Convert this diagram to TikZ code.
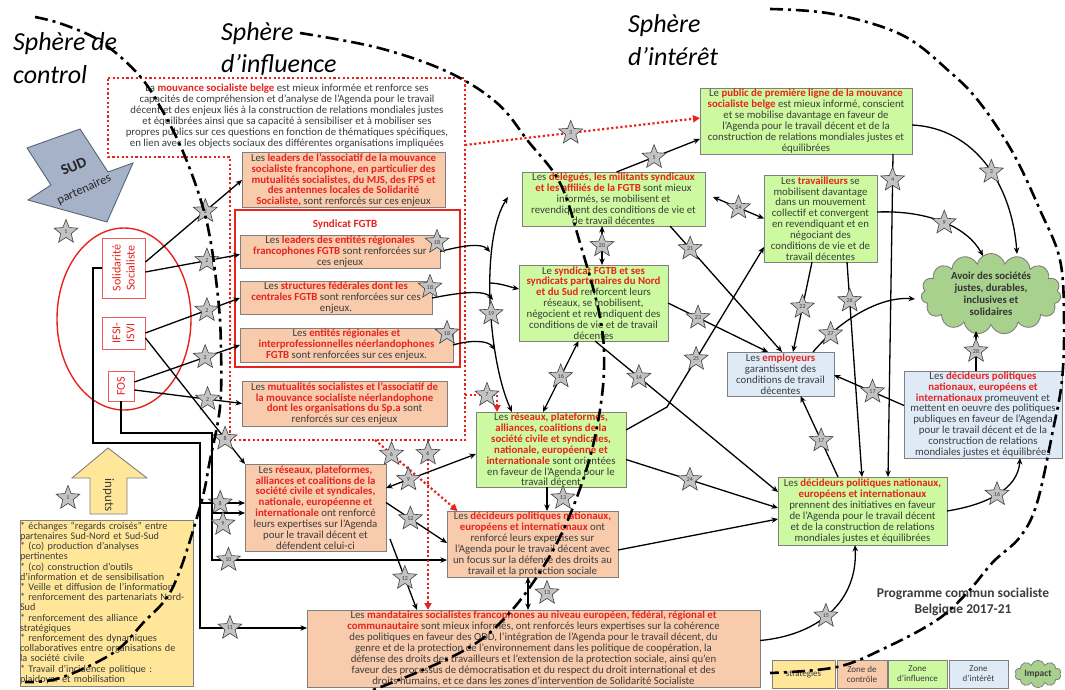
\documentclass[tikz,border=0pt]{standalone}
\usepackage{fontspec}
\setmainfont{Carlito}
\usetikzlibrary{arrows.meta,shapes.geometric,shapes.symbols,calc}
\definecolor{orf}{RGB}{248,203,173}
\definecolor{grf}{RGB}{205,250,160}
\definecolor{blf}{RGB}{222,235,247}
\definecolor{yef}{RGB}{255,230,153}
\definecolor{clf}{RGB}{169,209,142}
\definecolor{redt}{RGB}{232,35,30}
\definecolor{txt}{RGB}{60,60,60}
\definecolor{bord}{RGB}{127,127,127}
\definecolor{sudf}{RGB}{166,178,200}
\definecolor{sudb}{RGB}{90,100,120}
\definecolor{stf}{RGB}{195,195,195}
\newcommand{\rd}[1]{\textcolor{redt}{\bfseries #1}}
\begin{document}
\begin{tikzpicture}[x=1pt,y=1pt,
  bx/.style={draw=bord, line width=0.9pt, inner sep=0.5pt, outer sep=0pt, align=center, text=txt, font=\fontsize{10.8}{10.9}\selectfont},
  ob/.style={bx, fill=orf}, gb/.style={bx, fill=grf}, lb/.style={bx, fill=blf},
  stn/.style={star, star points=5, star point ratio=2.3, minimum size=25pt, inner sep=0pt, solid, fill=stf, draw=gray!50!black, line width=0.6pt, font=\fontsize{6}{6}\selectfont, text=txt},
  ln/.style={line width=1.3pt, black},
  ar/.style={ln, -{Stealth[length=6.5pt,width=5.5pt]}},
  dar/.style={ln, {Stealth[length=6.5pt,width=5.5pt]}-{Stealth[length=6.5pt,width=5.5pt]}},
  rdot/.style={draw=redt, line width=2.2pt, dash pattern=on 2.2pt off 2.4pt},
  rar/.style={rdot, -{Triangle[length=7pt,width=7pt]}},
  sph/.style={line width=2.6pt, dash pattern=on 13pt off 5pt on 3pt off 5pt},
  head/.style={font=\fontsize{26}{30}\selectfont\itshape, text=black, inner sep=0pt, anchor=base west},
  smallbox/.style={draw=redt!75, line width=0.9pt, fill=white, inner sep=0pt},
  smalltxt/.style={text=redt, align=center, font=\fontsize{12}{14}\selectfont, inner sep=0pt},
  lgd/.style={bx, font=\fontsize{9}{10}\selectfont, minimum height=28pt},
]
\useasboundingbox[fill=white] (0,0) rectangle (1065,-690);

% headings
\node[head] (h1a) at (13,-51) {Sphère de};
\node[head] (h1b) at (13,-84) {control};
\node[head] (h2a) at (221,-41) {Sphère};
\node[head] (h2b) at (221,-73) {d’influence};
\node[head] (h3a) at (628,-33) {Sphère};
\node[head] (h3b) at (628,-66) {d’intérêt};

% SUD arrow
\draw[fill=sudf, draw=sudb, line width=0.9pt] (80,-129) -- (27,-148) -- (51,-185) -- (28,-200) -- (107,-222) -- (133,-163) -- (108,-172) -- cycle;
\node[rotate=24, align=center, inner sep=0pt, text=black!85, font=\fontsize{12.5}{15}\selectfont] (sud) at (79,-178) {{\bfseries\fontsize{15}{15}\selectfont SUD}\\[9pt]partenaires};

% ellipse with organisations
\node[ellipse, draw=redt, line width=1.4pt, minimum width=134pt, minimum height=182pt] (EL) at (124,-319) {};
\node[smallbox, minimum width=43pt, minimum height=60pt] (SS) at (123.5,-268) {};
\node[smalltxt, rotate=90] (SSt) at (SS) {Solidarité\\Socialiste};
\node[smallbox, minimum width=43pt, minimum height=32pt] (IF) at (123.5,-333) {};
\node[smalltxt, rotate=90] (IFt) at (IF) {IFSI-\\ISVI};
\node[smallbox, minimum width=26pt, minimum height=30pt] (FO) at (121,-386) {};
\node[smalltxt, rotate=90] (FOt) at (FO) {FOS};

% inputs
\draw[fill=yef, draw=bord, line width=0.9pt] (108,-448) -- (147,-478) -- (127,-478) -- (127,-514) -- (90,-514) -- (90,-478) -- (72,-478) -- cycle;
\node[rotate=-90, font=\fontsize{13}{13}\selectfont, text=txt] (inp) at (108.5,-495) {inputs};
\node[bx, fill=yef, align=left, text width=173pt, inner sep=0pt, minimum height=166pt, font=\fontsize{10.2}{10.2}\selectfont] (IN) at (106.5,-603) {* échanges “regards croisés” entre\\ partenaires Sud-Nord et Sud-Sud\\ {*} (co) production d’analyses\\ pertinentes\\ {*} (co) construction d’outils\\ d’information et de sensibilisation\\ {*} Veille et diffusion de l’information\\ {*} renforcement des partenariats Nord-\\ Sud\\ {*} renforcement des alliance\\ stratégiques\\ {*} renforcement des dynamiques\\ collaboratives entre organisations de\\ la société civile\\ {*} Travail d’incidence politique :\\ plaidoyer et mobilisation};

% dotted red region
\draw[rdot] (108,-78) -- (465,-78) -- (465,-440) -- (230,-440) -- (230,-157) -- (108,-157) -- cycle;
\node[bx, draw=none, fill=none] (T0) at (287,-116) {La \rd{mouvance socialiste belge} est mieux informée et renforce ses\\ capacités de compréhension et d’analyse de l’Agenda pour le travail\\ décent et des enjeux liés à la construction de relations mondiales justes\\ et équilibrées ainsi que sa capacité à sensibiliser et à mobiliser ses\\ propres publics sur ces questions en fonction de thématiques spécifiques,\\ en lien avec les objects sociaux des différentes organisations impliquées};

% orange boxes
\node[ob, minimum width=203pt, minimum height=54pt] (B2) at (343.5,-180) {Les \rd{leaders de l’associatif de la mouvance}\\ \rd{socialiste francophone, en particulier des}\\ \rd{mutualités socialistes, du MJS, des FPS et}\\ \rd{des antennes locales de Solidarité}\\ \rd{Socialiste,} sont renforcés sur ces enjeux};
\node[draw=redt, line width=1.2pt, minimum width=225pt, minimum height=157pt, inner sep=0pt] (FG) at (347.5,-288.5) {};
\node[font=\bfseries\fontsize{11}{12}\selectfont, text=redt] (FGt) at (345,-225) {Syndicat FGTB};
\node[ob, minimum width=200pt, minimum height=33pt] (B3) at (340,-251.5) {Les \rd{leaders des entités régionales}\\ \rd{francophones FGTB} sont renforcées sur\\ ces enjeux};
\node[ob, minimum width=192pt, minimum height=30pt] (B4) at (336,-298) {Les \rd{structures fédérales dont les}\\ \rd{centrales FGTB} sont renforcées sur ces\\ enjeux.};
\node[ob, minimum width=213pt, minimum height=34pt] (B5) at (346.5,-345) {Les \rd{entités régionales et}\\ \rd{interprofessionnelles néerlandophones}\\ \rd{FGTB} sont renforcées sur ces enjeux.};
\node[ob, minimum width=205pt, minimum height=45pt] (B6) at (344.5,-403.5) {Les \rd{mutualités socialistes et l’associatif de}\\ \rd{la mouvance socialiste néerlandophone}\\ \rd{dont les organisations du Sp.a} sont\\ renforcés sur ces enjeux};
\node[ob, minimum width=141pt, minimum height=87pt] (B7) at (315.5,-507.5) {Les \rd{réseaux, plateformes,}\\ \rd{alliances et coalitions de la}\\ \rd{société civile et syndicales,}\\ \rd{nationale, européenne et}\\ \rd{internationale} ont renforcé\\ leurs expertises sur l’Agenda\\ pour le travail décent et\\ défendent celui-ci};
\node[ob, minimum width=171pt, minimum height=66pt] (B8) at (532.5,-544) {Les \rd{décideurs politiques nationaux,}\\ \rd{européens et internationaux} ont\\ renforcé leurs expertises sur\\ l’Agenda pour le travail décent avec\\ un focus sur la défense des droits au\\ travail et la protection sociale};
\node[ob, minimum width=453pt, minimum height=77pt] (B9) at (533.5,-648.5) {Les \rd{mandataires socialistes francophones au niveau européen, fédéral, régional et}\\ \rd{communautaire} sont mieux informés, ont renforcés leurs expertises sur la cohérence\\ des politiques en faveur des ODD, l’intégration de l’Agenda pour le travail décent, du\\ genre et de la protection de l’environnement dans les politique de coopération, la\\ défense des droits des travailleurs et l’extension de la protection sociale, ainsi qu’en\\ faveur des processus de démocratisation et du respect du droit international et des\\ droits humains, et ce dans les zones d’intervention de Solidarité Socialiste};

% green boxes
\node[gb, minimum width=212pt, minimum height=66pt] (G1) at (806,-121) {Le \rd{public de première ligne de la mouvance}\\ \rd{socialiste belge} est mieux informé, conscient\\ et se mobilise davantage en faveur de\\ l’Agenda pour le travail décent et de la\\ construction de relations mondiales justes et\\ équilibrées};
\node[gb, minimum width=183pt, minimum height=54pt] (G2) at (613.5,-199) {Les \rd{délégués, les militants syndicaux}\\ \rd{et les affiliés de la FGTB} sont mieux\\ informés, se mobilisent et\\ revendiquent des conditions de vie et\\ de travail décentes};
\node[gb, minimum width=149pt, minimum height=76pt] (G3) at (593.5,-303) {Le \rd{syndicat FGTB et ses}\\ \rd{syndicats partenaires du Nord}\\ \rd{et du Sud} renforcent leurs\\ réseaux, se mobilisent,\\ négocient et revendiquent des\\ conditions de vie et de travail\\ décentes};
\node[gb, minimum width=150pt, minimum height=75pt] (G4) at (551,-449.5) {Les \rd{réseaux, plateformes,}\\ \rd{alliances, coalitions de la}\\ \rd{société civile et syndicales,}\\ \rd{nationale, européenne et}\\ \rd{internationale} sont orientées\\ en faveur de l’Agenda pour le\\ travail décent};
\node[gb, minimum width=113pt, minimum height=87pt] (G5) at (820.5,-218.5) {Les \rd{travailleurs} se\\ mobilisent davantage\\ dans un mouvement\\ collectif et convergent\\ en revendiquant et en\\ négociant des\\ conditions de vie et de\\ travail décentes};
\node[gb, minimum width=169pt, minimum height=68pt] (G6) at (862.5,-511) {Les \rd{décideurs politiques nationaux,}\\ \rd{européens et internationaux}\\ prennent des initiatives en faveur\\ de l’Agenda pour le travail décent\\ et de la construction de relations\\ mondiales justes et équilibrées};

% blue boxes
\node[lb, minimum width=107pt, minimum height=44pt] (L1) at (780.5,-374) {Les \rd{employeurs}\\ garantissent des\\ conditions de travail\\ décentes};
\node[lb, minimum width=158pt, minimum height=87pt] (L2) at (983,-414.5) {Les \rd{décideurs politiques}\\ \rd{nationaux, européens et}\\ \rd{internationaux} promeuvent et\\ mettent en oeuvre des politiques\\ publiques en faveur de l’Agenda\\ pour le travail décent et de la\\ construction de relations\\ mondiales justes et équilibrées};

% impact cloud
\node[cloud, cloud puffs=15, aspect=2.1, fill=clf, draw=bord, line width=0.9pt, minimum width=140pt, minimum height=70pt, inner sep=0pt, align=center, text=black!80, font=\bfseries\fontsize{10.8}{12}\selectfont] (CL) at (991,-294) {Avoir des sociétés\\ justes, durables,\\ inclusives et\\ solidaires};

% ---------- connectors: left ----------
\draw[ar] ([yshift=6pt]SS.east) -- node[stn,pos=0.62] (s01) {2} (B2.west);
\draw[ar] ([yshift=-4pt]SS.east) -- node[stn,pos=0.65] (s02) {2} ([yshift=-3pt]B3.west);
\draw[ar] (IF.east) -- node[stn,pos=0.65] (s03) {2} (B4.west);
\draw[ar] ([yshift=4pt]FO.east) -- node[stn,pos=0.67] (s04) {2} (B5.west);
\draw[ar] ([yshift=-4pt]FO.east) -- node[stn,pos=0.68] (s05) {2} (B6.west);
\draw[ar] ([yshift=-5pt]IF.east) -- node[stn,pos=0.8] (s06) {8} (B7.north west);
\coordinate (jA) at (200,-503);
\coordinate (jB) at (212,-513);
\draw[ar] (SS.west) -- (93,-268) -- (93,-443) -- (200,-443) -- (200,-628) -- node[stn,pos=0.28] (s07) {11} ([yshift=20.5pt]B9.west);
\draw[ar] (jA) -- node[stn,pos=0.45] (s08) {8} ([yshift=4.5pt]B7.west);
\draw[ar] (FO.south) -- (121,-433) -- (212,-433) -- (212,-560) -- node[stn,pos=0.07] (s09) {10} ([yshift=-16pt]B8.west);
\draw[ar] (jB) -- ([yshift=-5.5pt]B7.west);
\node[stn] (s10) at (223,-524) {9};
\node[stn] (s11) at (66,-232) {1};
\node[stn] (s12) at (68,-498) {1};

% ---------- red dotted arrows ----------
\draw[rar] (465,-395) -- (497,-395) -- ([xshift=-54pt]G4.north);
\node[stn] (s13) at (487,-395) {7};
\draw[rar] (465,-145) -- node[stn,pos=0.45] (s14) {3} ([yshift=3pt]G1.west);
\draw[rar] (375,-440) -- node[stn,pos=0.2] (s15) {6} ([xshift=-75pt]B8.north);
\draw[rar] (428,-440) -- node[stn,pos=0.08] (s16) {6} ([xshift=-105.5pt]B9.north);

% ---------- connectors: middle ----------
\coordinate (cA) at (490,-252);
\coordinate (cB) at (493,-300);
\coordinate (cC) at (495,-350);
\coordinate (cD) at (489,-283);
\draw[ar] (B3.east) .. controls (465,-245) and (482,-243) .. (cA);
\draw[ar] (B4.east) .. controls (462,-292) and (485,-290) .. (cB);
\draw[ar] (B5.east) .. controls (470,-340) and (488,-340) .. (cC);
\node[stn] (s17) at (437,-242) {18};
\node[stn] (s18) at (430,-287) {18};
\node[stn] (s19) at (447,-333) {18};
\draw[dar] ([xshift=-39pt]G4.north) .. controls (488,-360) and (480,-240) .. node[stn,pos=0.45] (s20) {19} ([xshift=-14pt,yshift=2pt]G2.west);
\draw[ar] (cD) .. controls (500,-283) and (510,-287) .. ([yshift=14pt]G3.west);
\draw[dar] ([xshift=-8pt]G4.north) -- node[stn,pos=0.5] (s21) {16} ([xshift=-15pt]G3.south);
\draw[dar] ([xshift=8.5pt]G3.north) -- node[stn,pos=0.5] (s22) {20} ([xshift=-11.5pt]G2.south);
\draw[dar] ([yshift=19.5pt]B7.east) -- node[stn,pos=0.25] (s23) {9} ([yshift=-4.5pt]G4.west);
\draw[ar] ([yshift=5pt]B7.east) -- node[stn,pos=0.4] (s24) {12} ([yshift=1pt]B8.west);
\draw[ar] ([xshift=4pt,yshift=12pt]B7.south east) -- node[stn,pos=0.55] (s25) {12} ([xshift=-116.5pt]B9.north);
\draw[ar] ([xshift=-4pt]G4.south) -- ([xshift=14.5pt]B8.north);
\node[stn] (s26) at (563,-498) {13};
\draw[dar] ([xshift=-4.5pt]B8.south) -- ([xshift=-5.5pt]B9.north);
\node[stn] (s27) at (547,-593) {13};
\draw[ar] ([xshift=3pt]G2.north) -- node[stn,pos=0.45] (s28) {5} ([yshift=-18pt]G1.west);
\draw[ar] ([yshift=19.5pt]G4.east) -- (667,-407) -- node[stn,pos=0.3] (s29) {25} ([yshift=-28.5pt]G5.west);
\draw[ar] ([yshift=-10pt]G4.east) -- node[stn,pos=0.42] (s30) {24} ([yshift=3pt]G6.west);
\draw[ar] ([xshift=1.5pt]G3.south) -- node[stn,pos=0.24] (s31) {14} ([yshift=19pt]G6.west);
\draw[ar] ([yshift=-6pt]B8.east) -- ([yshift=-8pt]G6.west);

% ---------- connectors: right ----------
\draw[ar] (G3.east) -- node[stn,pos=0.3] (s32) {23} ([xshift=-12.5pt]L1.north);
\draw[ar] ([xshift=56.5pt]G2.south) -- node[stn,pos=0.18] (s33) {21} ([xshift=1.5pt]L1.north);
\draw[ar] ([xshift=-8.5pt]G5.south) -- node[stn,pos=0.5] (s34) {22} ([xshift=12.5pt]L1.north);
\draw[ar] ([xshift=26.5pt]G5.south) -- node[stn,pos=0.18] (s35) {26} ([xshift=-0.5pt]G6.north);
\draw[ar] ([xshift=87pt]G1.south) -- node[stn,pos=0.08] (s36) {4} ([xshift=25.5pt]G6.north);
\draw[dar] ([xshift=8pt,yshift=2pt]G2.east) -- node[stn,pos=0.5] (s37) {24} (G5.west);
\draw[ar] ([yshift=-4pt]G1.east) .. controls (975,-128) and (1012,-185) .. node[stn,pos=0.55] (s38) {3} ([xshift=26pt,yshift=40pt]CL.center);
\draw[ar] ([yshift=6.5pt]G5.east) .. controls (930,-210) and (968,-228) .. node[stn,pos=0.5] (s39) {9} ([xshift=-8pt,yshift=38pt]CL.center);
\draw[ar] ([xshift=32.5pt]L1.north) .. controls (840,-320) and (880,-296) .. node[stn,pos=0.2] (s40) {27} ([xshift=-76pt,yshift=-5pt]CL.center);
\draw[ar] ([xshift=-7pt]L2.north) -- node[stn,pos=0.5] (s41) {28} ([xshift=-15pt,yshift=-37pt]CL.center);
\draw[ar] ([yshift=9pt]L2.west) -- node[stn,pos=0.45] (s42) {17} ([yshift=-1pt]L1.east);
\draw[ar] ([xshift=-24.5pt]G6.north) -- node[stn,pos=0.45] (s43) {17} ([xshift=20pt]L1.south);
\draw[ar] (G6.east) .. controls (985,-505) and (1018,-490) .. node[stn,pos=0.5] (s44) {16} ([xshift=37pt]L2.south);
\draw[ar] ([yshift=8pt]B9.east) .. controls (820,-635) and (858,-600) .. node[stn,pos=0.45] (s45) {15} ([xshift=-7.5pt]G6.south);

% ---------- title and legend ----------
\node[font=\bfseries\fontsize{13.5}{15.5}\selectfont, text=txt, align=center] (title) at (963,-602) {Programme commun socialiste\\Belgique 2017-21};
\node[lgd, fill=yef, minimum width=63pt] (LG1) at (803.5,-674) {stratégies};
\node[lgd, fill=orf, minimum width=50pt] (LG2) at (862,-674) {Zone de\\contrôle};
\node[lgd, fill=grf, minimum width=59pt] (LG3) at (917.5,-674) {Zone\\d’influence};
\node[lgd, fill=blf, minimum width=59pt] (LG4) at (978.5,-674) {Zone\\d’intérêt};
\node[cloud, cloud puffs=10, aspect=2, fill=clf, draw=bord, line width=0.8pt, minimum width=46pt, minimum height=22pt, inner sep=0pt, text=txt, font=\bfseries\fontsize{9.5}{10}\selectfont] (LG5) at (1038,-674) {Impact};

% ---------- spheres ----------
\draw[sph] plot[smooth, tension=0.6] coordinates {(35,-17) (62,-24) (100,-41) (138,-74) (162,-110) (186,-159) (207,-223) (218,-297) (221,-350) (220,-407) (210,-460) (200,-507) (173,-587) (143,-623) (113,-653) (60,-678) (25,-682)};
\draw[sph] plot[smooth, tension=0.6] coordinates {(300,-33) (379,-48) (448,-72) (497,-103) (528,-141) (560,-183) (580,-243) (600,-317) (604,-370) (597,-427) (583,-480) (560,-537) (530,-587) (500,-623) (470,-647) (423,-670) (360,-695)};
\draw[sph] plot[smooth, tension=0.6] coordinates {(770,-9) (833,-14) (902,-35) (950,-72) (980,-103) (1013,-153) (1040,-210) (1060,-260) (1064,-320) (1062,-380) (1053,-430) (1037,-503) (1020,-537) (993,-562) (967,-593) (937,-620) (887,-647) (837,-667) (770,-673)};
\end{tikzpicture}
\end{document}
